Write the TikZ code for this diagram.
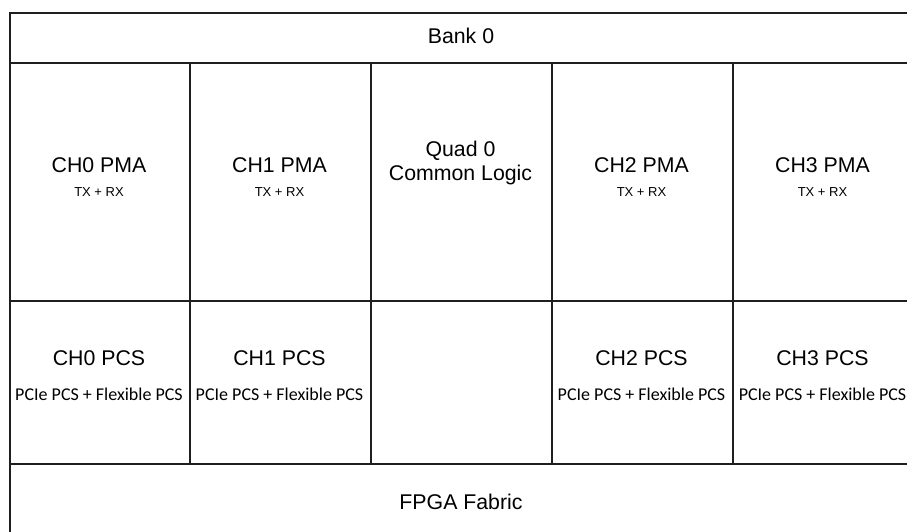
\documentclass[tikz,border=0pt]{standalone}
\usepackage{fontspec}
\setmainfont{Liberation Sans}
\newfontfamily\calib{Carlito}
\begin{document}
\begin{tikzpicture}[x=1pt,y=-1pt,
  cell/.style={draw=black!88,line width=1.6pt,inner sep=0pt,anchor=north west},
  big/.style={font=\fontsize{21.3}{24}\selectfont,anchor=base,inner sep=0pt},
  small/.style={font=\fontsize{13}{15}\selectfont,anchor=base,inner sep=0pt},
  pcs/.style={font=\calib\fontsize{18}{21}\selectfont,anchor=base,inner sep=0pt}]
\useasboundingbox (0,0) rectangle (907,531);
% cells
\node[cell,minimum width=904pt,minimum height=50pt] (bank) at (9,12) {};
\node[cell,minimum width=180pt,minimum height=238pt] (pma0) at (9,62) {};
\node[cell,minimum width=181pt,minimum height=238pt] (pma1) at (189,62) {};
\node[cell,minimum width=181pt,minimum height=238pt] (quad) at (370,62) {};
\node[cell,minimum width=181pt,minimum height=238pt] (pma2) at (551,62) {};
\node[cell,minimum width=181pt,minimum height=238pt] (pma3) at (732,62) {};
\node[cell,minimum width=180pt,minimum height=163pt] (pcs0) at (9,300) {};
\node[cell,minimum width=181pt,minimum height=163pt] (pcs1) at (189,300) {};
\node[cell,minimum width=181pt,minimum height=163pt] (empty) at (370,300) {};
\node[cell,minimum width=181pt,minimum height=163pt] (pcs2) at (551,300) {};
\node[cell,minimum width=181pt,minimum height=163pt] (pcs3) at (732,300) {};
\node[cell,minimum width=904pt,minimum height=69pt] (fab) at (9,463) {};
% texts
\node[big] (tbank) at (461,43.3) {Bank 0};
\node[big] (t0) at (99,172.5) {CH0 PMA};
\node[small] (s0) at (99,196.7) {TX + RX};
\node[big] (t1) at (279.5,172.5) {CH1 PMA};
\node[small] (s1) at (279.5,196.7) {TX + RX};
\node[big] (tq1) at (460.5,156.7) {Quad 0};
\node[big] (tq2) at (460.5,180) {Common Logic};
\node[big] (t2) at (641.5,172.5) {CH2 PMA};
\node[small] (s2) at (641.5,196.7) {TX + RX};
\node[big] (t3) at (822.5,172.5) {CH3 PMA};
\node[small] (s3) at (822.5,196.7) {TX + RX};
\node[big] (p0) at (99,365) {CH0 PCS};
\node[pcs] (q0) at (99,400) {PCIe PCS + Flexible PCS};
\node[big] (p1) at (279.5,365) {CH1 PCS};
\node[pcs] (q1) at (279.5,400) {PCIe PCS + Flexible PCS};
\node[big] (p2) at (641.5,365) {CH2 PCS};
\node[pcs] (q2) at (641.5,400) {PCIe PCS + Flexible PCS};
\node[big] (p3) at (822.5,365) {CH3 PCS};
\node[pcs] (q3) at (822.5,400) {PCIe PCS + Flexible PCS};
\node[big] (tfab) at (461,509) {FPGA Fabric};
\end{tikzpicture}
\end{document}
